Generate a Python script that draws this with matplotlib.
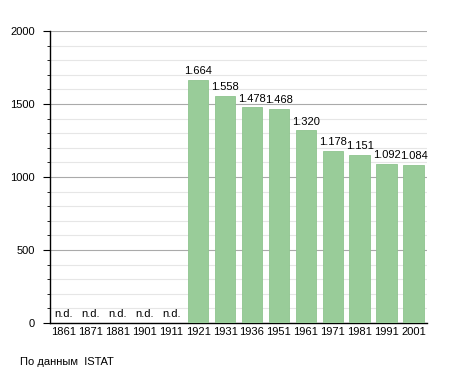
import numpy as np
import matplotlib.pyplot as plt
from matplotlib.ticker import MultipleLocator

plt.rcParams['font.family'] = ['Liberation Sans', 'DejaVu Sans']

years = ['1861', '1871', '1881', '1901', '1911', '1921', '1931', '1936',
         '1951', '1961', '1971', '1981', '1991', '2001']
population = [None, None, None, None, None, 1664, 1558, 1478,
              1468, 1320, 1178, 1151, 1092, 1084]

fs = 8.0

fig = plt.figure(figsize=(4.55, 3.73), dpi=100)
ax = fig.add_axes([50/455, 1 - 323/373, 377/455, 292/373])

x = np.arange(len(years))
vals = [v if v is not None else 0 for v in population]
ax.bar(x, vals, width=0.76, color='#99cc99', edgecolor='#8fc48f', linewidth=0.6, zorder=3)

for xi, v in zip(x, population):
    if v is None:
        ax.text(xi, 30, 'n.d.', ha='center', va='bottom', fontsize=fs, zorder=4)
    else:
        lbl = f'{v // 1000}.{v % 1000:03d}'
        ax.text(xi, v + 25, lbl, ha='center', va='bottom', fontsize=fs, zorder=4)

ax.set_xlim(-0.5, len(years) - 0.5)
ax.set_ylim(0, 2000)
ax.set_xticks(x)
ax.set_xticklabels(years)
ax.yaxis.set_major_locator(MultipleLocator(500))
ax.yaxis.set_minor_locator(MultipleLocator(100))
ax.grid(axis='y', which='major', color='#aaaaaa', linewidth=0.8, zorder=0)
ax.grid(axis='y', which='minor', color='#e6e6e6', linewidth=0.8, zorder=0)
ax.tick_params(axis='x', length=0, labelsize=fs, pad=3)
ax.tick_params(axis='y', which='major', length=5, labelsize=fs, pad=6)
ax.tick_params(axis='y', which='minor', length=2.5)
for s in ['top', 'right']:
    ax.spines[s].set_visible(False)
ax.spines['left'].set_linewidth(1.0)
ax.spines['bottom'].set_linewidth(1.0)

fig.text(20/455, 1 - 362/373, 'По данным  ISTAT', fontsize=fs, va='center')

fig.savefig('out.png', dpi=100)
